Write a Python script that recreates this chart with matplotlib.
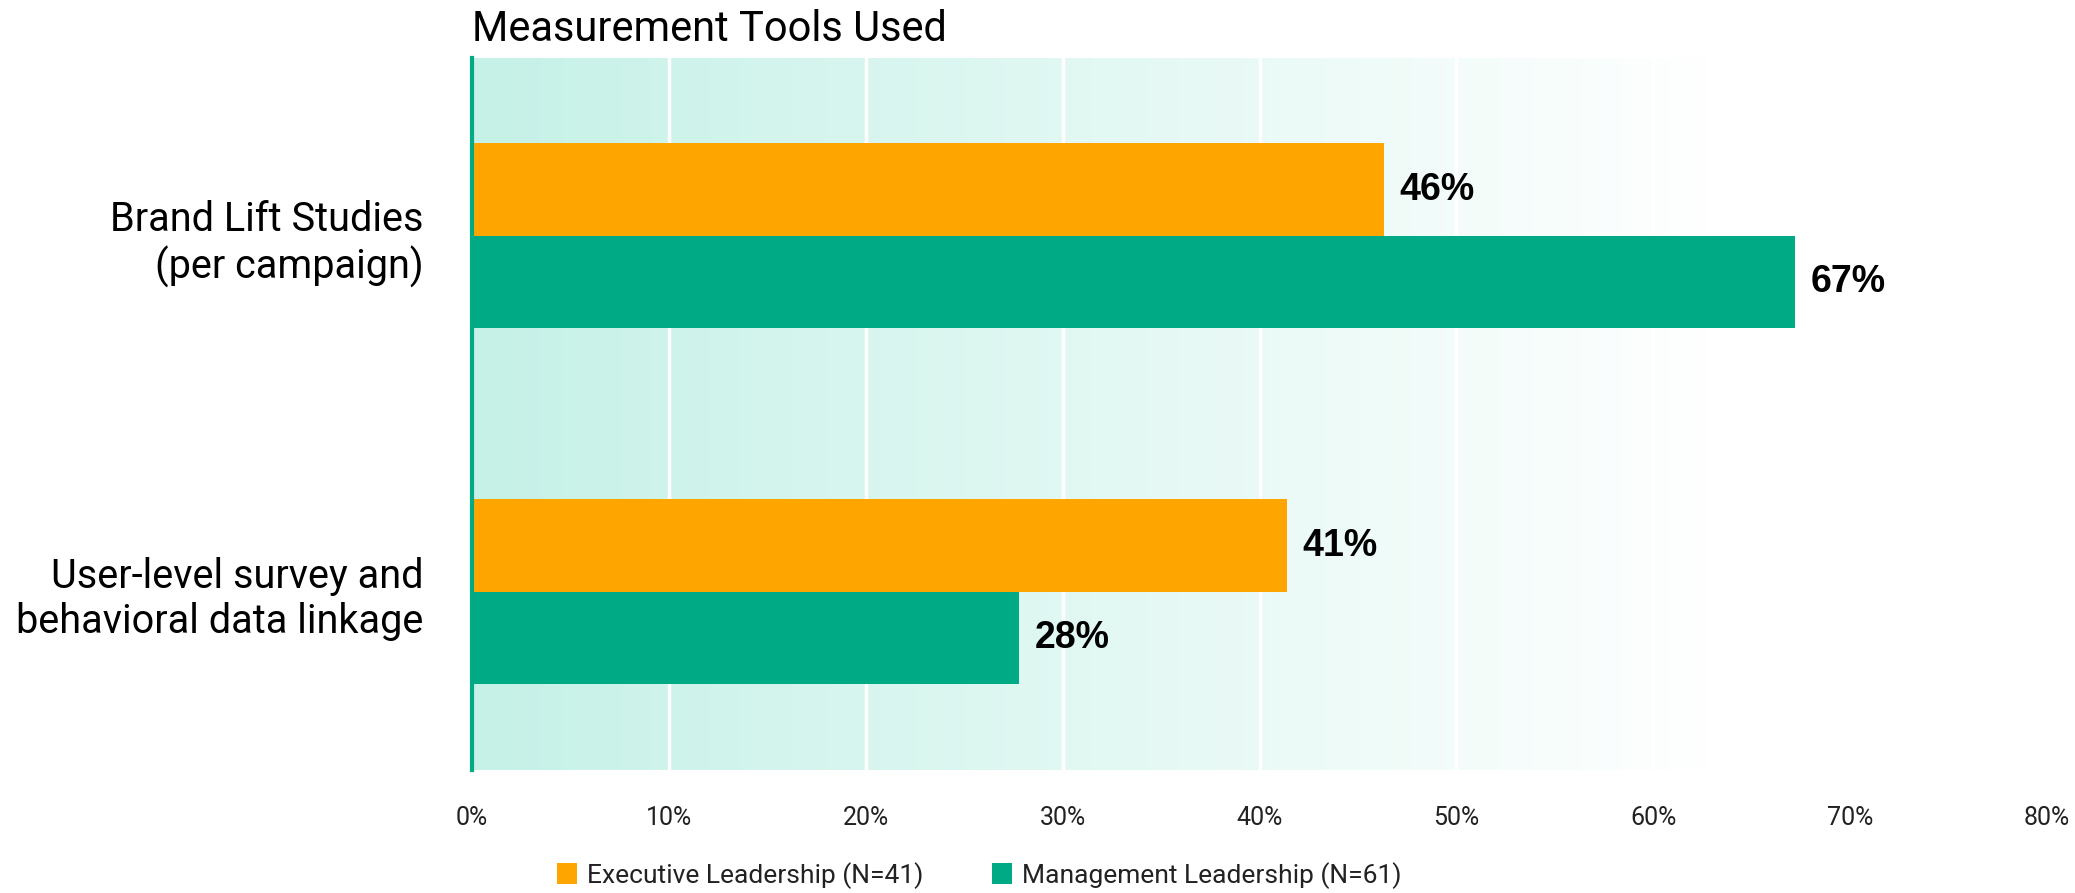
import numpy as np
import matplotlib
matplotlib.use('Agg')
import matplotlib.pyplot as plt
from matplotlib.colors import LinearSegmentedColormap

plt.rcParams['font.family'] = ['Roboto', 'DejaVu Sans']

categories = ['Brand Lift Studies\n(per campaign)', 'User-level survey and\nbehavioral data linkage']
executive = [46.3, 41.4]
management = [67.2, 27.8]
series_names = ['Executive Leadership (N=41)', 'Management Leadership (N=61)']
xticks = [0, 10, 20, 30, 40, 50, 60, 70, 80]

orange = '#FFA500'
green = '#00AA84'

fig = plt.figure(figsize=(20.75, 8.93), dpi=100)
ax = fig.add_axes([0.2275, 0.138, 0.759, 0.797])

y = np.arange(len(categories))
h = 0.26

# background gradient, mint fading to white
cmap = LinearSegmentedColormap.from_list('bg', ['#C5F1E7', '#FFFFFF'])
grad = np.linspace(0, 1, 256).reshape(1, -1)
ax.imshow(grad, cmap=cmap, aspect='auto', extent=(0, 63, 1.5, -0.5), zorder=0)

for x in xticks[1:]:
    ax.axvline(x, color='white', lw=2.5, zorder=1)

ax.barh(y - h / 2, executive, height=h, color=orange, label=series_names[0], zorder=2)
ax.barh(y + h / 2, management, height=h, color=green, label=series_names[1], zorder=2)

for i in range(len(categories)):
    ax.text(executive[i] + 0.8, y[i] - h / 2, f'{executive[i]:.0f}%', va='center', ha='left',
            fontsize=27, fontweight='bold', family=['Liberation Sans', 'DejaVu Sans'])
    ax.text(management[i] + 0.8, y[i] + h / 2, f'{management[i]:.0f}%', va='center', ha='left',
            fontsize=27, fontweight='bold', family=['Liberation Sans', 'DejaVu Sans'])

ax.set_xlim(0, 80)
ax.set_ylim(1.5, -0.5)
ax.set_xticks(xticks)
ax.set_xticklabels([f'{t}%' for t in xticks], fontsize=18, color='#222222')
ax.set_yticks(y)
ax.set_yticklabels(categories, fontsize=28.5, ha='right', linespacing=1.2)
ax.tick_params(axis='both', length=0)
ax.tick_params(axis='x', pad=26)
ax.tick_params(axis='y', pad=35)

for s in ['top', 'right', 'bottom']:
    ax.spines[s].set_visible(False)
ax.spines['left'].set_color(green)
ax.spines['left'].set_linewidth(3)
ax.spines['left'].set_zorder(3)

ax.set_title('Measurement Tools Used', loc='left', fontsize=30, pad=12, x=0)

fig.legend(loc='center', bbox_to_anchor=(0.472, 0.02), ncol=2, frameon=False,
           fontsize=19, handlelength=0.75, handleheight=0.9, handletextpad=0.4,
           columnspacing=2.6, labelcolor='#222222')

fig.savefig('out.png', dpi=100)
